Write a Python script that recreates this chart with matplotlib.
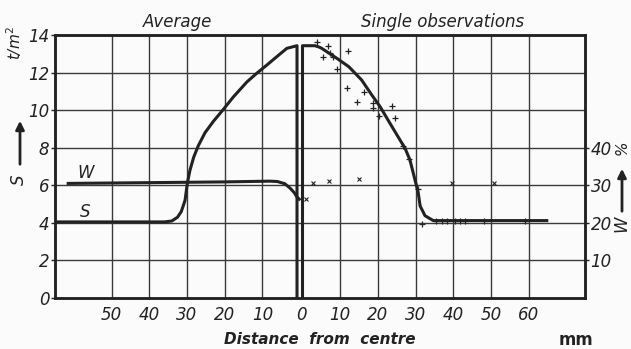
import matplotlib
matplotlib.use("Agg")
import matplotlib.pyplot as plt
import numpy as np

# ---------------- data ----------------
# Left half ("Average"): distance from centre in mm (plotted to the left)
avg_s_dist = [65, 36, 34, 32.5, 31.5, 30.5, 29.9, 29.2, 28.2, 27.0, 25.2, 23.0, 20.5,
              17.7, 14.1, 11.5, 8.8, 6.2, 3.5, 0.8, 0.8]
avg_s_val = [4.05, 4.05, 4.1, 4.3, 4.6, 5.2, 6.1, 6.8, 7.5, 8.1, 8.8, 9.4, 10.0,
             10.7, 11.5, 11.96, 12.4, 12.84, 13.29, 13.43, 0.0]
avg_w_dist = [61.5, 40, 20, 8, 6, 4, 2.6, 1.5, 0.9, 0.2]
avg_w_val = [30.5, 30.7, 30.9, 31.1, 31.0, 30.4, 29.2, 28.0, 27.0, 26.3]

# Right half ("Single observations"): fitted S curve
obs_s_dist = [0, 0, 3.3, 4.5, 5.1, 9.1, 12.3, 15.7, 18.4, 20.6, 23.2, 25.9, 27.2, 28.5,
              30.3, 30.7, 31.2, 32.5, 34.7, 64.8]
obs_s_val = [0.0, 13.43, 13.43, 13.35, 13.29, 12.76, 12.31, 11.6, 10.8, 10.18, 9.3, 8.4,
             7.97, 7.35, 5.92, 5.6, 4.9, 4.38, 4.12, 4.12]
# single observations of S (+)
pts_s_dist = [3.8, 6.8, 5.4, 7.3, 8.1, 12.1, 9.1, 11.8, 16.3, 14.4, 18.6, 18.6, 23.7,
              20.4, 24.6, 26.6, 28.3, 30.7, 31.6, 35.4, 36.9, 38.4, 40.5, 41.8, 43.1,
              48.1, 59.0]
pts_s_val = [13.64, 13.4, 12.85, 13.05, 12.85, 13.16, 12.17, 11.2, 10.98, 10.41, 10.36,
             10.1, 10.2, 9.69, 9.56, 8.09, 7.38, 5.79, 3.94, 4.1, 4.1, 4.1, 4.1, 4.1,
             4.1, 4.1, 4.1]
# single observations of W (x), in %
pts_w_dist = [0.85, 2.7, 7.1, 15.1, 39.6, 50.8]
pts_w_val = [26.3, 30.5, 31.2, 31.6, 30.7, 30.7]

left_ticks = [50, 40, 30, 20, 10]
right_ticks = [10, 20, 30, 40, 50, 60]
s_ticks = [0, 2, 4, 6, 8, 10, 12, 14]
w_ticks = [10, 20, 30, 40]

OFF = 0.66  # small gap between the two halves

# ---------------- figure ----------------
W_PX, H_PX = 631, 349
fig = plt.figure(figsize=(W_PX / 100, H_PX / 100), dpi=100, facecolor="#fbfbfb")

def fx(px):
    return px / W_PX

def fy(py):
    return 1 - py / H_PX

ax = fig.add_axes([fx(55), fy(298), fx(585) - fx(55), fy(35) - fy(298)])
ax.set_facecolor("#fbfbfb")
ax.set_xlim(-65, 75.6)
ax.set_ylim(0, 14)

ink = "#222222"
gridc = "#3a3a3a"
font = dict(family="DejaVu Sans", style="italic")

# grid
for d in left_ticks:
    ax.axvline(-d, color=gridc, lw=1.0, zorder=1)
for d in right_ticks:
    ax.axvline(d + OFF, color=gridc, lw=1.0, zorder=1)
for s in s_ticks[1:-1]:
    ax.axhline(s, color=gridc, lw=1.0, zorder=1)

# left curves
ax.plot([-d for d in avg_s_dist], avg_s_val, color=ink, lw=2.2, zorder=3,
        solid_joinstyle="round", solid_capstyle="butt")
ax2 = ax.twinx()
ax2.set_ylim(0, 70)
ax2.plot([-d for d in avg_w_dist], avg_w_val, color=ink, lw=2.2, zorder=3,
         solid_joinstyle="round")

# right curve
ax.plot([d + OFF for d in obs_s_dist], obs_s_val, color=ink, lw=2.2, zorder=3,
        solid_joinstyle="round")
ax.plot([d + OFF for d in pts_s_dist], pts_s_val, linestyle="none", marker="+",
        ms=5, mew=0.9, color=ink, zorder=4)
ax2.plot([d + OFF for d in pts_w_dist], pts_w_val, linestyle="none", marker="x",
         ms=2.5, mew=0.8, color=ink, zorder=4)

# axes styling
for a in (ax, ax2):
    for sp in a.spines.values():
        sp.set_linewidth(1.8)
        sp.set_color(ink)

xt = [-d for d in left_ticks] + [0.3] + [d + OFF for d in right_ticks]
xl = [str(d) for d in left_ticks] + ["0"] + [str(d) for d in right_ticks]
ax.set_xticks(xt)
ax.set_xticklabels(xl, fontsize=12, **font)
ax.tick_params(axis="x", length=0, pad=6, colors=ink)

ax.set_yticks(s_ticks)
ax.set_yticklabels([str(s) for s in s_ticks], fontsize=12, **font)
ax.tick_params(axis="y", length=3, width=1.0, pad=1, direction="out", colors=ink)

ax2.set_yticks(w_ticks)
ax2.set_yticklabels([str(w) for w in w_ticks], fontsize=12, **font)
ax2.tick_params(axis="y", length=3, width=1.0, pad=1, direction="out", colors=ink)

# curve labels
ax.text(-57, 6.65, "W", fontsize=12, ha="center", va="center", color=ink, **font)
ax.text(-57, 4.6, "S", fontsize=12, ha="center", va="center", color=ink, **font)

# titles & axis texts
fig.text(fx(178), fy(22), "Average", fontsize=12, ha="center", va="center", color=ink, **font)
fig.text(fx(443), fy(22), "Single observations", fontsize=12, ha="center", va="center",
         color=ink, **font)
fig.text(fx(320), fy(339), "Distance  from  centre", fontsize=11, fontweight="bold",
         ha="center", va="center", color=ink, **font)
fig.text(fx(576), fy(340), "mm", fontsize=12, fontweight="bold", ha="center",
         va="center", color=ink, family="DejaVu Sans")

fig.text(fx(14), fy(43), "t/m$^2$", fontsize=11, rotation=90, ha="center", va="center",
         color=ink, **font)
fig.text(fx(19), fy(180), "S", fontsize=12, rotation=90, ha="center", va="center",
         color=ink, **font)
fig.text(fx(622), fy(148), "%", fontsize=11, rotation=90, ha="center", va="center",
         color=ink, **font)
fig.text(fx(621), fy(224), "W", fontsize=12, rotation=90, ha="center", va="center",
         color=ink, **font)

fig.add_artist(matplotlib.patches.FancyArrowPatch(
    (fx(20), fy(167)), (fx(20), fy(118)), transform=fig.transFigure,
    arrowstyle="-|>,head_length=5,head_width=2.5", lw=2, color=ink))
fig.add_artist(matplotlib.patches.FancyArrowPatch(
    (fx(622), fy(214)), (fx(622), fy(166)), transform=fig.transFigure,
    arrowstyle="-|>,head_length=5,head_width=2.5", lw=2, color=ink))

fig.savefig("out.png", dpi=100, facecolor=fig.get_facecolor())
